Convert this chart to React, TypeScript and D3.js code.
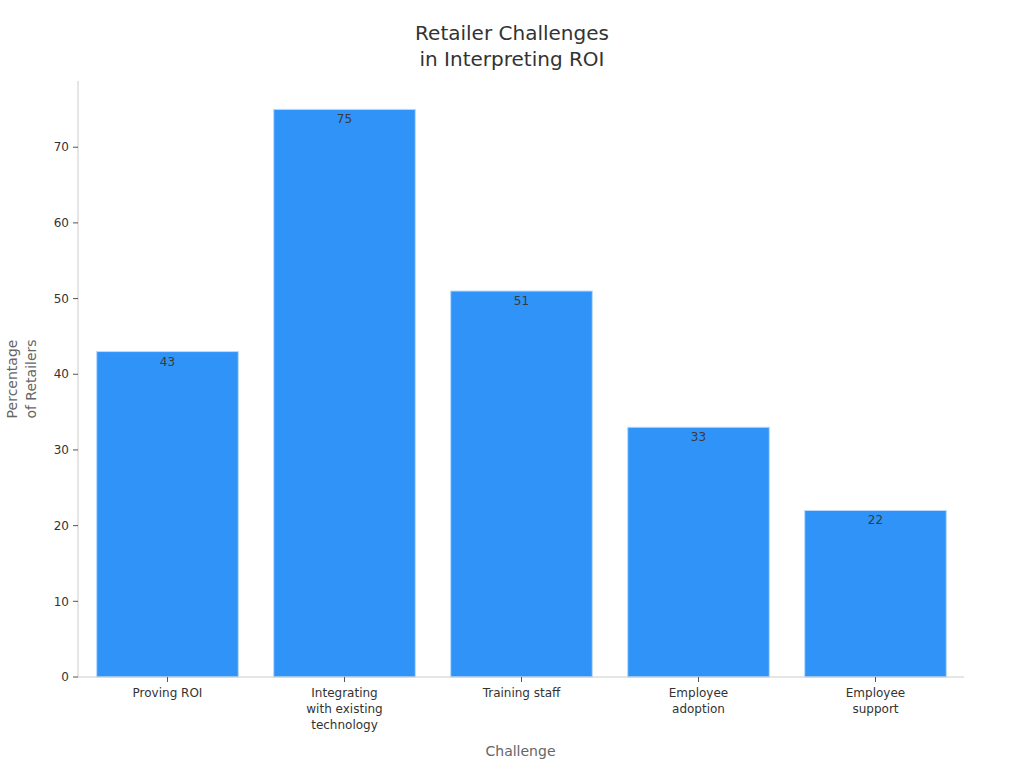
import React, { useMemo } from 'react';
import * as d3 from 'd3';

const categories = ['Proving ROI', 'Integrating with existing technology', 'Training staff', 'Employee adoption', 'Employee support'];
const categoryLines = [['Proving ROI'], ['Integrating', 'with existing', 'technology'], ['Training staff'], ['Employee', 'adoption'], ['Employee', 'support']];
const values = [43, 75, 51, 33, 22];
const yTicks = [0, 10, 20, 30, 40, 50, 60, 70];

const width = 1024;
const height = 768;
const margin = { top: 81, right: 61, bottom: 91, left: 78 };
const font = '"DejaVu Sans", sans-serif';

const App: React.FC = () => {
  const innerW = width - margin.left - margin.right;
  const innerH = height - margin.top - margin.bottom;

  const x = useMemo(
    () => d3.scaleBand<string>().domain(categories).range([1, innerW + 1]).paddingInner(0.2).paddingOuter(0.1),
    [innerW]
  );
  const y = useMemo(
    () => d3.scaleLinear().domain([0, (d3.max(values) || 0) * 1.05]).range([innerH, 0]),
    [innerH]
  );

  return (
    <svg
      width={width}
      height={height}
      style={{ position: 'absolute', left: 0, top: 0, fontFamily: font, background: '#fff' }}
    >
      {/* Title */}
      <text x={512} y={40} textAnchor="middle" fontSize={20} fill="#333">Retailer Challenges</text>
      <text x={512} y={66} textAnchor="middle" fontSize={20} fill="#333">in Interpreting ROI</text>

      <g transform={`translate(${margin.left},${margin.top})`}>
        {/* Bars */}
        {categories.map((c, i) => (
          <g key={c}>
            <rect
              x={x(c)}
              y={y(values[i])}
              width={x.bandwidth()}
              height={innerH - y(values[i])}
              fill="#2f93f8"
              stroke="#b9dafc"
              strokeWidth={1}
            />
            <text
              x={(x(c) || 0) + x.bandwidth() / 2}
              y={y(values[i]) + 14}
              textAnchor="middle"
              fontSize={12}
              fill="#3a3a3a"
            >
              {values[i]}
            </text>
          </g>
        ))}

        {/* Y axis */}
        <line x1={0} y1={0} x2={0} y2={innerH} stroke="#ccc" />
        {yTicks.map(t => (
          <g key={t} transform={`translate(0,${y(t)})`}>
            <line x1={-5} x2={0} stroke="#555" />
            <text x={-9} dy="0.35em" textAnchor="end" fontSize={12} fill="#333">{t}</text>
          </g>
        ))}

        {/* X axis */}
        <line x1={0} y1={innerH} x2={innerW + 1} y2={innerH} stroke="#ccc" />
        {categories.map((c, i) => {
          const cx = (x(c) || 0) + x.bandwidth() / 2;
          return (
            <g key={c} transform={`translate(${cx},${innerH})`}>
              <line y1={0} y2={5} stroke="#555" />
              {categoryLines[i].map((l, j) => (
                <text key={j} y={20 + j * 16} textAnchor="middle" fontSize={12} fill="#333">{l}</text>
              ))}
            </g>
          );
        })}
      </g>

      {/* Axis titles */}
      <text x={margin.left + innerW / 2} y={756} textAnchor="middle" fontSize={14} fill="#666">Challenge</text>
      <g transform={`translate(17,${margin.top + innerH / 2}) rotate(-90)`}>
        <text textAnchor="middle" fontSize={14} fill="#666">Percentage</text>
        <text y={19} textAnchor="middle" fontSize={14} fill="#666">of Retailers</text>
      </g>
    </svg>
  );
};

export default App;
